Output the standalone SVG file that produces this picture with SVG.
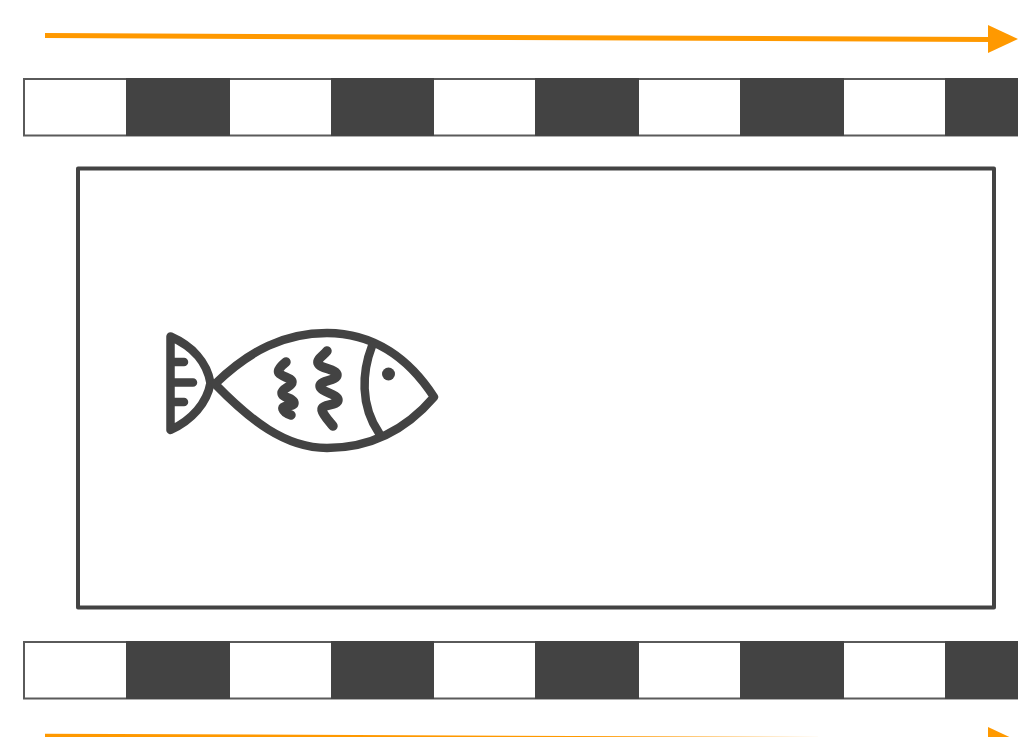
<svg xmlns="http://www.w3.org/2000/svg" width="1018" height="737" viewBox="0 0 1018 737">
<style>
.o{stroke:#ff9900;stroke-width:5;fill:none}
.h{fill:#ff9900}
.w{fill:#fff;stroke:#5a5a5a;stroke-width:2}
.d{fill:#434343}
.f{fill:none;stroke:#434343;stroke-width:8.500;stroke-linecap:round;stroke-linejoin:round}
.g{fill:none;stroke:#434343;stroke-width:9.500;stroke-linecap:round;stroke-linejoin:round}
</style>
<rect width="1018" height="737" fill="#fff"/>
<g id="belt-top">
<rect class="w" x="24" y="79" width="994" height="56.500"/>
<rect class="d" x="126" y="78" width="104" height="58"/>
<rect class="d" x="331" y="78" width="103" height="58"/>
<rect class="d" x="535" y="78" width="104" height="58"/>
<rect class="d" x="740" y="78" width="104" height="58"/>
<rect class="d" x="945" y="78" width="73" height="58"/>
</g>
<g id="belt-bottom">
<rect class="w" x="24" y="642" width="994" height="56.500"/>
<rect class="d" x="126" y="641" width="104" height="58"/>
<rect class="d" x="331" y="641" width="103" height="58"/>
<rect class="d" x="535" y="641" width="104" height="58"/>
<rect class="d" x="740" y="641" width="104" height="58"/>
<rect class="d" x="945" y="641" width="73" height="58"/>
</g>
<g id="tank"><rect x="78" y="168.500" width="916" height="439" fill="#fff" stroke="#434343" stroke-width="4" stroke-linejoin="round"/></g>
<g id="fish">
<path class="f" d="M170.500 336.500C192 346 207 362 210.500 383C207 403 192 420 170.500 430Z"/>
<path class="f" d="M172 362H184M172 382.500H193M172 402H184"/>
<path class="f" d="M215 384C250 350 285 333 327 333C375 333 410 360 434 397C410 425 375 448 327 448C285 448 250 420 215 384Z"/>
<path class="f" d="M372 346C362 372 360 405 379 433"/>
<path class="g" d="M286 362C281 366 277 370 279 373C282 377 292 378 292 382C292 387 282 388 282 393C282 398 294 398 294 403C294 407 282 405 283 409C284 412 288 414 291 415"/>
<path class="g" d="M327 351C323 356 317 359 318 363C320 369 337 369 337 375C337 381 320 380 320 386C320 392 338 394 338 400C338 406 321 404 322 410C323 415 329 421 333 426"/>
<circle cx="388.500" cy="374" r="6.500" fill="#434343"/>
</g>
<g id="connectors">
<path class="o" d="M45 35.500L990 39.500"/>
<polygon class="h" points="988,25 1018,39 988,53"/>
<path class="o" d="M45 736.200L990 740.200"/>
<polygon class="h" points="988,727 1018,741 988,755"/>
</g>
</svg>
